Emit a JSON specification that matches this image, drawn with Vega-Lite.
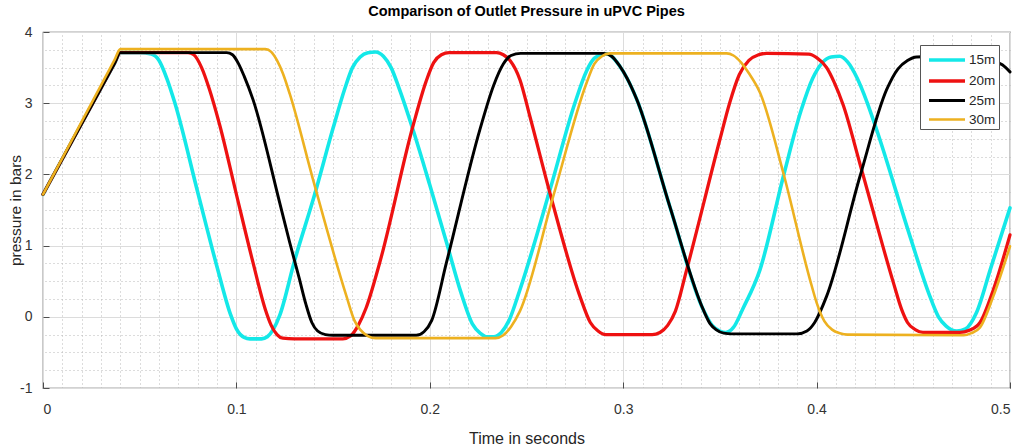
{
  "$schema": "https://vega.github.io/schema/vega-lite/v6.json",
  "width": 967,
  "height": 356,
  "autosize": {"type": "none"},
  "padding": {"left": 43, "top": 32, "right": 14, "bottom": 60},
  "background": "white",
  "title": {"text": "Comparison of Outlet Pressure in uPVC Pipes", "font": "Liberation Sans", "fontSize": 14.5, "fontWeight": "bold", "color": "#000000", "anchor": "middle", "offset": 6},
  "config": {
    "view": {"stroke": "#4d4d4d", "strokeWidth": 1.2},
    "axis": {"labelFont": "Liberation Sans", "labelFontSize": 14, "labelColor": "#333333", "titleFont": "Liberation Sans", "titleFontWeight": "normal", "titleColor": "#262626"}
  },
  "data": {"values": [
    {"t": 0, "p": 1.72, "s": "15m"}, {"t": 0.02, "p": 2.715, "s": "15m"}, {"t": 0.037, "p": 3.56, "s": "15m"}, {"t": 0.04, "p": 3.71, "s": "15m"}, {"t": 0.05, "p": 3.71, "s": "15m"}, {"t": 0.056, "p": 3.69, "s": "15m"}, {"t": 0.06, "p": 3.6, "s": "15m"}, {"t": 0.064, "p": 3.35, "s": "15m"}, {"t": 0.068, "p": 3.02, "s": "15m"}, {"t": 0.08, "p": 1.75, "s": "15m"}, {"t": 0.09, "p": 0.7, "s": "15m"}, {"t": 0.097, "p": 0.03, "s": "15m"}, {"t": 0.1, "p": -0.17, "s": "15m"}, {"t": 0.104, "p": -0.29, "s": "15m"}, {"t": 0.107, "p": -0.31, "s": "15m"}, {"t": 0.113, "p": -0.31, "s": "15m"}, {"t": 0.116, "p": -0.28, "s": "15m"}, {"t": 0.119, "p": -0.18, "s": "15m"}, {"t": 0.1224, "p": 0.02, "s": "15m"}, {"t": 0.13, "p": 0.78, "s": "15m"}, {"t": 0.1405, "p": 1.72, "s": "15m"}, {"t": 0.15, "p": 2.65, "s": "15m"}, {"t": 0.156, "p": 3.2, "s": "15m"}, {"t": 0.16, "p": 3.5, "s": "15m"}, {"t": 0.164, "p": 3.65, "s": "15m"}, {"t": 0.168, "p": 3.71, "s": "15m"}, {"t": 0.172, "p": 3.72, "s": "15m"}, {"t": 0.176, "p": 3.66, "s": "15m"}, {"t": 0.18, "p": 3.5, "s": "15m"}, {"t": 0.184, "p": 3.22, "s": "15m"}, {"t": 0.1914, "p": 2.62, "s": "15m"}, {"t": 0.2, "p": 1.85, "s": "15m"}, {"t": 0.2087, "p": 1.04, "s": "15m"}, {"t": 0.216, "p": 0.35, "s": "15m"}, {"t": 0.222, "p": -0.1, "s": "15m"}, {"t": 0.226, "p": -0.23, "s": "15m"}, {"t": 0.2293, "p": -0.28, "s": "15m"}, {"t": 0.233, "p": -0.28, "s": "15m"}, {"t": 0.237, "p": -0.22, "s": "15m"}, {"t": 0.241, "p": -0.05, "s": "15m"}, {"t": 0.2466, "p": 0.38, "s": "15m"}, {"t": 0.2621, "p": 1.78, "s": "15m"}, {"t": 0.275, "p": 3.0, "s": "15m"}, {"t": 0.281, "p": 3.45, "s": "15m"}, {"t": 0.285, "p": 3.63, "s": "15m"}, {"t": 0.289, "p": 3.68, "s": "15m"}, {"t": 0.292, "p": 3.69, "s": "15m"}, {"t": 0.294, "p": 3.66, "s": "15m"}, {"t": 0.298, "p": 3.53, "s": "15m"}, {"t": 0.302, "p": 3.35, "s": "15m"}, {"t": 0.3069, "p": 3.06, "s": "15m"}, {"t": 0.3241, "p": 1.55, "s": "15m"}, {"t": 0.3414, "p": 0.1, "s": "15m"}, {"t": 0.346, "p": -0.12, "s": "15m"}, {"t": 0.35, "p": -0.2, "s": "15m"}, {"t": 0.353, "p": -0.22, "s": "15m"}, {"t": 0.357, "p": -0.15, "s": "15m"}, {"t": 0.362, "p": 0.12, "s": "15m"}, {"t": 0.3707, "p": 0.66, "s": "15m"}, {"t": 0.3828, "p": 1.97, "s": "15m"}, {"t": 0.392, "p": 2.9, "s": "15m"}, {"t": 0.398, "p": 3.35, "s": "15m"}, {"t": 0.403, "p": 3.57, "s": "15m"}, {"t": 0.4075, "p": 3.65, "s": "15m"}, {"t": 0.412, "p": 3.66, "s": "15m"}, {"t": 0.416, "p": 3.58, "s": "15m"}, {"t": 0.421, "p": 3.35, "s": "15m"}, {"t": 0.426, "p": 3.02, "s": "15m"}, {"t": 0.431, "p": 2.63, "s": "15m"}, {"t": 0.4483, "p": 1.13, "s": "15m"}, {"t": 0.458, "p": 0.33, "s": "15m"}, {"t": 0.463, "p": 0.0, "s": "15m"}, {"t": 0.467, "p": -0.13, "s": "15m"}, {"t": 0.4725, "p": -0.2, "s": "15m"}, {"t": 0.477, "p": -0.17, "s": "15m"}, {"t": 0.4827, "p": 0.06, "s": "15m"}, {"t": 0.49, "p": 0.68, "s": "15m"}, {"t": 0.5, "p": 1.53, "s": "15m"},

    {"t": 0, "p": 1.72, "s": "20m"}, {"t": 0.02, "p": 2.715, "s": "20m"}, {"t": 0.037, "p": 3.56, "s": "20m"}, {"t": 0.04, "p": 3.71, "s": "20m"}, {"t": 0.075, "p": 3.71, "s": "20m"}, {"t": 0.078, "p": 3.68, "s": "20m"}, {"t": 0.082, "p": 3.5, "s": "20m"}, {"t": 0.086, "p": 3.2, "s": "20m"}, {"t": 0.0914, "p": 2.69, "s": "20m"}, {"t": 0.1, "p": 1.72, "s": "20m"}, {"t": 0.1086, "p": 0.76, "s": "20m"}, {"t": 0.115, "p": 0.1, "s": "20m"}, {"t": 0.118, "p": -0.12, "s": "20m"}, {"t": 0.121, "p": -0.25, "s": "20m"}, {"t": 0.124, "p": -0.3, "s": "20m"}, {"t": 0.13, "p": -0.31, "s": "20m"}, {"t": 0.155, "p": -0.31, "s": "20m"}, {"t": 0.159, "p": -0.27, "s": "20m"}, {"t": 0.163, "p": -0.12, "s": "20m"}, {"t": 0.167, "p": 0.12, "s": "20m"}, {"t": 0.1741, "p": 0.76, "s": "20m"}, {"t": 0.1914, "p": 2.69, "s": "20m"}, {"t": 0.198, "p": 3.3, "s": "20m"}, {"t": 0.202, "p": 3.57, "s": "20m"}, {"t": 0.206, "p": 3.68, "s": "20m"}, {"t": 0.21, "p": 3.71, "s": "20m"}, {"t": 0.2345, "p": 3.71, "s": "20m"}, {"t": 0.238, "p": 3.68, "s": "20m"}, {"t": 0.2415, "p": 3.6, "s": "20m"}, {"t": 0.2466, "p": 3.33, "s": "20m"}, {"t": 0.2517, "p": 2.82, "s": "20m"}, {"t": 0.2621, "p": 1.74, "s": "20m"}, {"t": 0.2776, "p": 0.29, "s": "20m"}, {"t": 0.283, "p": -0.08, "s": "20m"}, {"t": 0.287, "p": -0.2, "s": "20m"}, {"t": 0.291, "p": -0.25, "s": "20m"}, {"t": 0.315, "p": -0.25, "s": "20m"}, {"t": 0.319, "p": -0.22, "s": "20m"}, {"t": 0.323, "p": -0.12, "s": "20m"}, {"t": 0.327, "p": 0.08, "s": "20m"}, {"t": 0.3328, "p": 0.66, "s": "20m"}, {"t": 0.35, "p": 2.49, "s": "20m"}, {"t": 0.355, "p": 3.0, "s": "20m"}, {"t": 0.36, "p": 3.4, "s": "20m"}, {"t": 0.365, "p": 3.6, "s": "20m"}, {"t": 0.37, "p": 3.68, "s": "20m"}, {"t": 0.3742, "p": 3.7, "s": "20m"}, {"t": 0.396, "p": 3.69, "s": "20m"}, {"t": 0.4, "p": 3.64, "s": "20m"}, {"t": 0.4052, "p": 3.5, "s": "20m"}, {"t": 0.409, "p": 3.3, "s": "20m"}, {"t": 0.4138, "p": 2.97, "s": "20m"}, {"t": 0.4224, "p": 2.15, "s": "20m"}, {"t": 0.4397, "p": 0.48, "s": "20m"}, {"t": 0.444, "p": 0.1, "s": "20m"}, {"t": 0.447, "p": -0.08, "s": "20m"}, {"t": 0.451, "p": -0.18, "s": "20m"}, {"t": 0.455, "p": -0.22, "s": "20m"}, {"t": 0.474, "p": -0.22, "s": "20m"}, {"t": 0.479, "p": -0.19, "s": "20m"}, {"t": 0.4845, "p": -0.08, "s": "20m"}, {"t": 0.4914, "p": 0.38, "s": "20m"}, {"t": 0.5, "p": 1.15, "s": "20m"},

    {"t": 0, "p": 1.72, "s": "25m"}, {"t": 0.02, "p": 2.715, "s": "25m"}, {"t": 0.037, "p": 3.56, "s": "25m"}, {"t": 0.04, "p": 3.71, "s": "25m"}, {"t": 0.095, "p": 3.71, "s": "25m"}, {"t": 0.098, "p": 3.68, "s": "25m"}, {"t": 0.101, "p": 3.56, "s": "25m"}, {"t": 0.104, "p": 3.38, "s": "25m"}, {"t": 0.1086, "p": 3.05, "s": "25m"}, {"t": 0.1224, "p": 1.6, "s": "25m"}, {"t": 0.1276, "p": 1.04, "s": "25m"}, {"t": 0.1324, "p": 0.55, "s": "25m"}, {"t": 0.136, "p": 0.17, "s": "25m"}, {"t": 0.139, "p": -0.08, "s": "25m"}, {"t": 0.142, "p": -0.2, "s": "25m"}, {"t": 0.146, "p": -0.25, "s": "25m"}, {"t": 0.15, "p": -0.26, "s": "25m"}, {"t": 0.193, "p": -0.26, "s": "25m"}, {"t": 0.197, "p": -0.21, "s": "25m"}, {"t": 0.201, "p": -0.05, "s": "25m"}, {"t": 0.2086, "p": 0.76, "s": "25m"}, {"t": 0.2259, "p": 2.63, "s": "25m"}, {"t": 0.233, "p": 3.25, "s": "25m"}, {"t": 0.238, "p": 3.55, "s": "25m"}, {"t": 0.242, "p": 3.67, "s": "25m"}, {"t": 0.247, "p": 3.7, "s": "25m"}, {"t": 0.29, "p": 3.7, "s": "25m"}, {"t": 0.294, "p": 3.66, "s": "25m"}, {"t": 0.298, "p": 3.53, "s": "25m"}, {"t": 0.302, "p": 3.35, "s": "25m"}, {"t": 0.3069, "p": 3.06, "s": "25m"}, {"t": 0.3241, "p": 1.55, "s": "25m"}, {"t": 0.3414, "p": 0.1, "s": "25m"}, {"t": 0.345, "p": -0.1, "s": "25m"}, {"t": 0.348, "p": -0.18, "s": "25m"}, {"t": 0.352, "p": -0.23, "s": "25m"}, {"t": 0.356, "p": -0.24, "s": "25m"}, {"t": 0.39, "p": -0.24, "s": "25m"}, {"t": 0.395, "p": -0.2, "s": "25m"}, {"t": 0.399, "p": -0.08, "s": "25m"}, {"t": 0.4052, "p": 0.29, "s": "25m"}, {"t": 0.4224, "p": 1.97, "s": "25m"}, {"t": 0.4362, "p": 3.19, "s": "25m"}, {"t": 0.442, "p": 3.48, "s": "25m"}, {"t": 0.447, "p": 3.6, "s": "25m"}, {"t": 0.4517, "p": 3.65, "s": "25m"}, {"t": 0.465, "p": 3.66, "s": "25m"}, {"t": 0.478, "p": 3.64, "s": "25m"}, {"t": 0.49, "p": 3.6, "s": "25m"}, {"t": 0.496, "p": 3.54, "s": "25m"}, {"t": 0.5, "p": 3.44, "s": "25m"},

    {"t": 0, "p": 1.72, "s": "30m"}, {"t": 0.02, "p": 2.74, "s": "30m"}, {"t": 0.037, "p": 3.607, "s": "30m"}, {"t": 0.04, "p": 3.76, "s": "30m"}, {"t": 0.115, "p": 3.76, "s": "30m"}, {"t": 0.118, "p": 3.72, "s": "30m"}, {"t": 0.121, "p": 3.6, "s": "30m"}, {"t": 0.124, "p": 3.42, "s": "30m"}, {"t": 0.1276, "p": 3.13, "s": "30m"}, {"t": 0.1397, "p": 1.92, "s": "30m"}, {"t": 0.1569, "p": 0.29, "s": "30m"}, {"t": 0.161, "p": -0.05, "s": "30m"}, {"t": 0.164, "p": -0.18, "s": "30m"}, {"t": 0.168, "p": -0.27, "s": "30m"}, {"t": 0.172, "p": -0.3, "s": "30m"}, {"t": 0.234, "p": -0.3, "s": "30m"}, {"t": 0.238, "p": -0.26, "s": "30m"}, {"t": 0.242, "p": -0.14, "s": "30m"}, {"t": 0.2466, "p": 0.08, "s": "30m"}, {"t": 0.2638, "p": 1.69, "s": "30m"}, {"t": 0.281, "p": 3.28, "s": "30m"}, {"t": 0.285, "p": 3.55, "s": "30m"}, {"t": 0.289, "p": 3.66, "s": "30m"}, {"t": 0.293, "p": 3.7, "s": "30m"}, {"t": 0.3535, "p": 3.7, "s": "30m"}, {"t": 0.357, "p": 3.67, "s": "30m"}, {"t": 0.361, "p": 3.57, "s": "30m"}, {"t": 0.365, "p": 3.42, "s": "30m"}, {"t": 0.3707, "p": 3.15, "s": "30m"}, {"t": 0.3828, "p": 2.02, "s": "30m"}, {"t": 0.3966, "p": 0.52, "s": "30m"}, {"t": 0.4, "p": 0.2, "s": "30m"}, {"t": 0.404, "p": -0.06, "s": "30m"}, {"t": 0.408, "p": -0.18, "s": "30m"}, {"t": 0.412, "p": -0.23, "s": "30m"}, {"t": 0.416, "p": -0.25, "s": "30m"}, {"t": 0.476, "p": -0.26, "s": "30m"}, {"t": 0.48, "p": -0.23, "s": "30m"}, {"t": 0.4845, "p": -0.15, "s": "30m"}, {"t": 0.4914, "p": 0.29, "s": "30m"}, {"t": 0.5, "p": 0.99, "s": "30m"}
  ]},
  "resolve": {"axis": {"x": "independent", "y": "independent"}},
  "layer": [
    {
      "mark": {"type": "point", "opacity": 0},
      "encoding": {
        "x": {"field": "t", "type": "quantitative", "scale": {"domain": [0, 0.5], "nice": false, "zero": false},
          "axis": {"orient": "top", "values": [0.01,0.02,0.03,0.04,0.05,0.06,0.07,0.08,0.09,0.11,0.12,0.13,0.14,0.15,0.16,0.17,0.18,0.19,0.21,0.22,0.23,0.24,0.25,0.26,0.27,0.28,0.29,0.31,0.32,0.33,0.34,0.35,0.36,0.37,0.38,0.39,0.41,0.42,0.43,0.44,0.45,0.46,0.47,0.48,0.49],
            "grid": true, "gridColor": "#b8b8b8", "gridDash": [1, 3], "gridWidth": 1, "ticks": false, "labels": false, "domain": false, "title": null}},
        "y": {"field": "p", "type": "quantitative", "scale": {"domain": [-1, 4], "nice": false, "zero": false},
          "axis": {"orient": "right", "values": [-0.75,-0.5,-0.25,0.25,0.5,0.75,1.25,1.5,1.75,2.25,2.5,2.75,3.25,3.5,3.75],
            "grid": true, "gridColor": "#b8b8b8", "gridDash": [1, 3], "gridWidth": 1, "ticks": false, "labels": false, "domain": false, "title": null}}
      }
    },
    {
      "mark": {"type": "line", "interpolate": "monotone", "strokeJoin": "round", "strokeCap": "round"},
      "encoding": {
        "x": {"field": "t", "type": "quantitative", "scale": {"domain": [0, 0.5], "nice": false, "zero": false},
          "axis": {"orient": "bottom", "values": [0, 0.1, 0.2, 0.3, 0.4, 0.5], "labelExpr": "'' + datum.value", "grid": true, "gridColor": "#dcdcdc", "gridWidth": 1,
            "domain": false, "tickColor": "#4d4d4d", "tickSize": -6, "labelPadding": 20, "title": "Time in seconds", "titleFontSize": 16, "titlePadding": 14}},
        "y": {"field": "p", "type": "quantitative", "scale": {"domain": [-1, 4], "nice": false, "zero": false},
          "axis": {"orient": "left", "values": [-1, 0, 1, 2, 3, 4], "labelExpr": "'' + datum.value", "grid": true, "gridColor": "#dcdcdc", "gridWidth": 1,
            "domain": false, "tickColor": "#4d4d4d", "tickSize": -6, "labelPadding": 17, "title": "pressure in bars", "titleFontSize": 15.5, "titlePadding": -4}},
        "color": {"field": "s", "type": "nominal", "scale": {"domain": ["15m", "20m", "25m", "30m"], "range": ["#14e8e8", "#ee1111", "#000000", "#edb120"]},
          "legend": {"orient": "none", "legendX": 877, "legendY": 13, "title": null, "strokeColor": "#555555", "fillColor": "#ffffff", "padding": 3,
            "symbolType": "M-0.6,0H3", "symbolSize": 400, "symbolStrokeWidth": 3.5, "labelFont": "Liberation Sans", "labelFontSize": 13.5, "labelColor": "#262626", "labelOffset": 22, "rowPadding": 1}},
        "strokeWidth": {"field": "s", "type": "nominal", "scale": {"domain": ["15m", "20m", "25m", "30m"], "range": [3.6, 2.6, 3.6, 2.6]}, "legend": null},
        "order": {"field": "t", "type": "quantitative"}
      }
    }
  ]
}
